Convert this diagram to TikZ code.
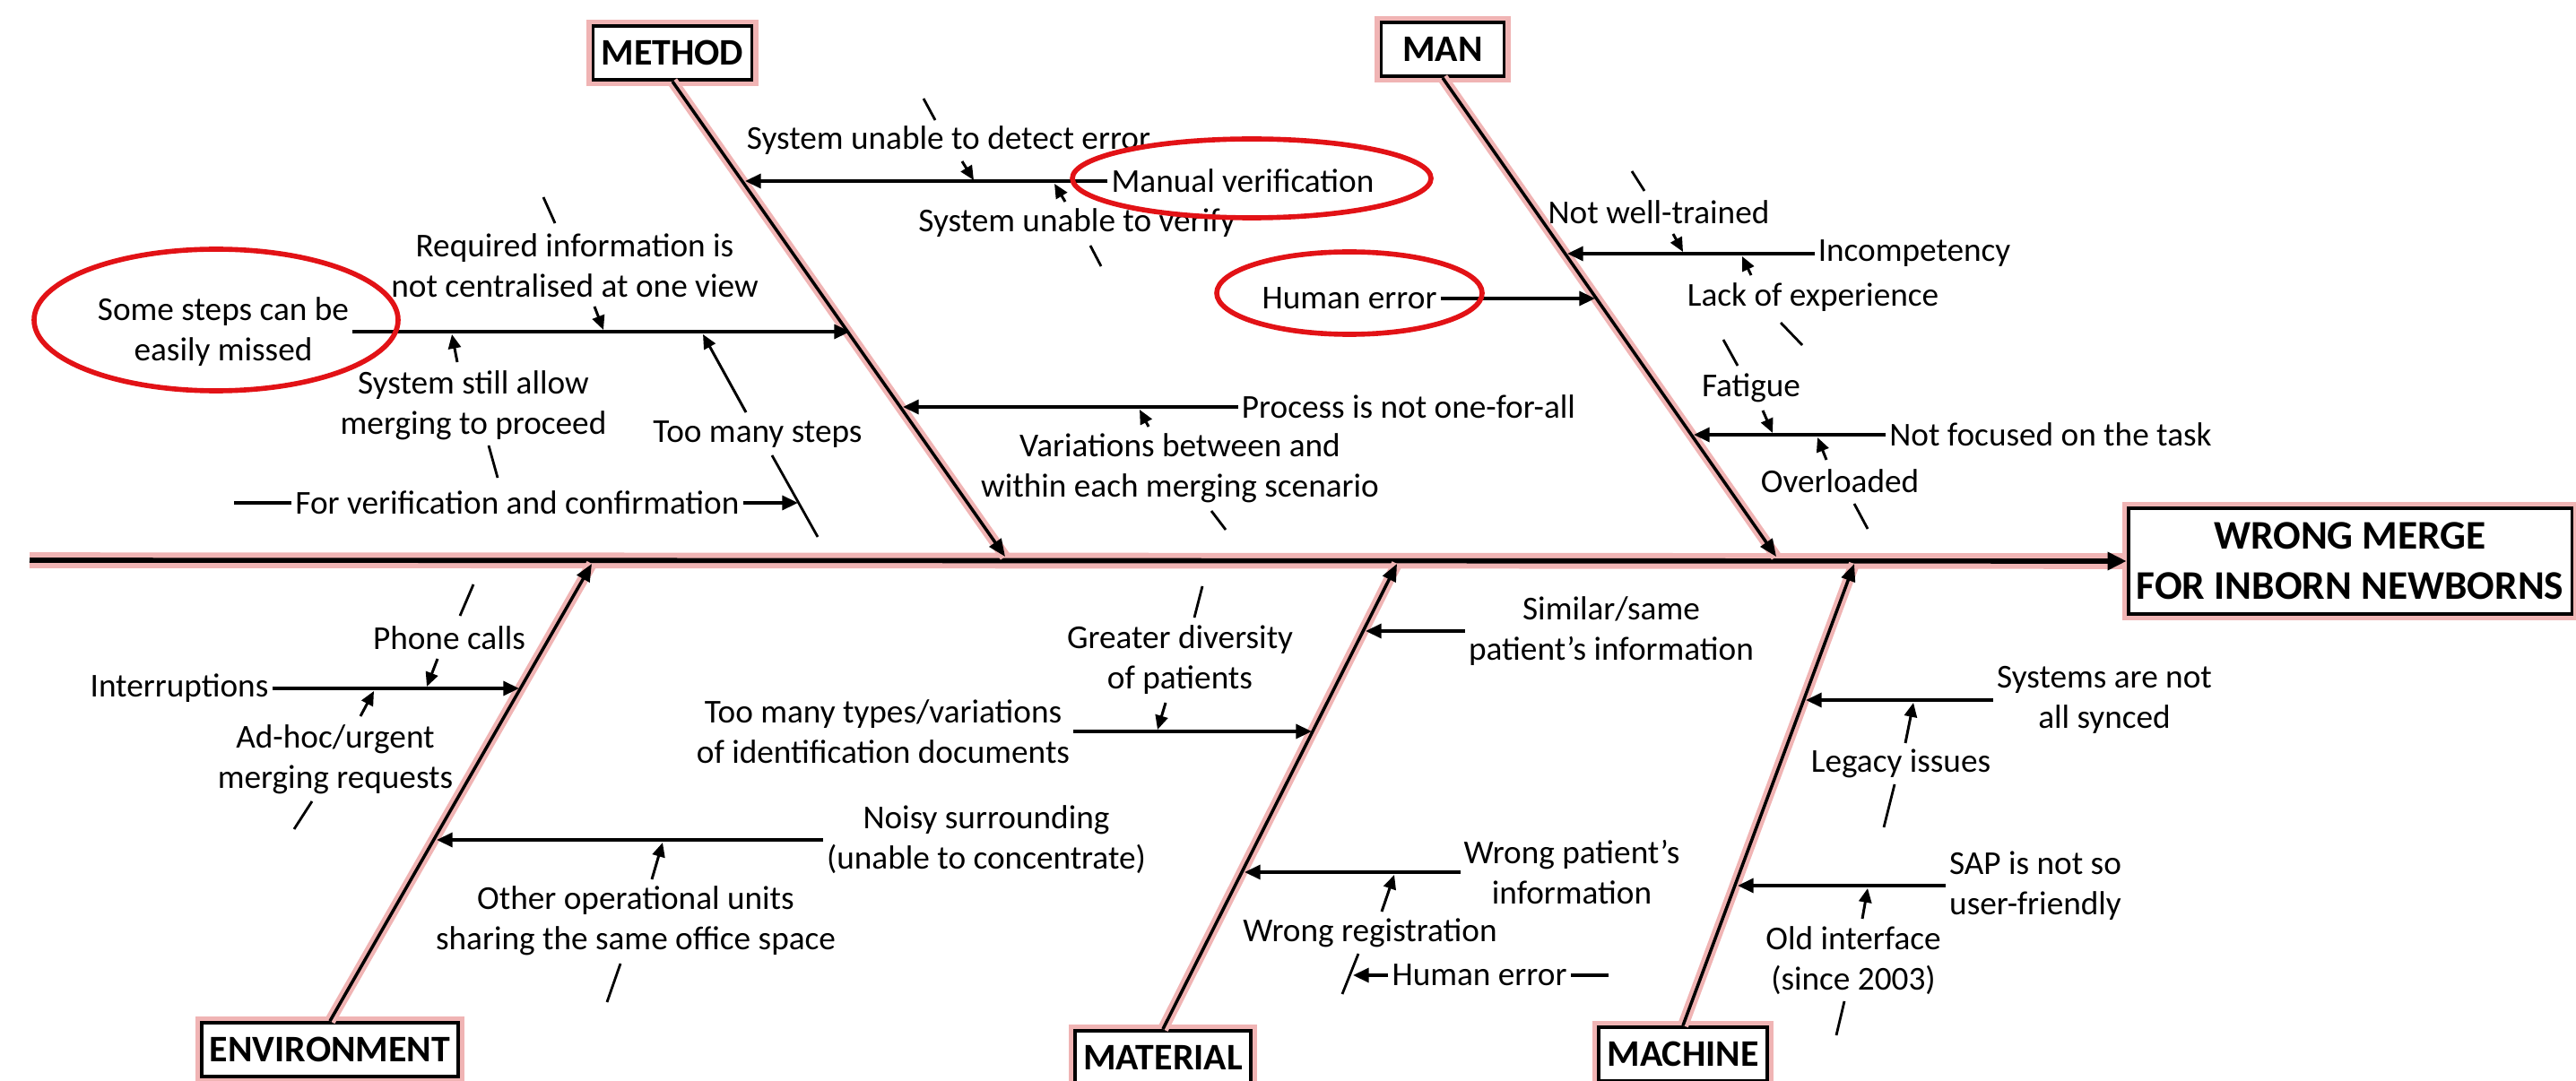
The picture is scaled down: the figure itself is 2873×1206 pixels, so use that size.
\documentclass[tikz,border=0pt]{standalone}
\usepackage{fontspec}
\setmainfont{Carlito}
\usetikzlibrary{arrows.meta,calc,positioning}

\definecolor{ringred}{RGB}{226,18,22}
\definecolor{glow}{RGB}{240,180,180}

\begin{document}
\begin{tikzpicture}[x=0.1mm, y=-0.1mm,
  cause/.style={font=\fontsize{10.6}{12.8}\selectfont, align=center, inner sep=1pt},
  catbox/.style={draw, line width=1.1pt, fill=white, inner xsep=2.6pt, minimum height=6mm,
    font=\fontsize{11.9}{14}\selectfont\bfseries, preaction={draw=glow, line width=4pt}},
  spine/.style={line width=1.6pt, -{Triangle[length=6pt,width=5.5pt]}, preaction={draw=glow, line width=5pt, -}},
  bone/.style={line width=1pt, -{Triangle[length=5.5pt,width=4.5pt]}, preaction={draw=glow, line width=3.5pt, -}},
  sub/.style={line width=1pt, -{Triangle[length=5pt,width=4.5pt]}},
  twig/.style={line width=0.85pt, -{Triangle[length=4.5pt,width=4pt]}},
  stub/.style={line width=0.8pt},
  ring/.style={draw=ringred, line width=1.6pt}]
\useasboundingbox (0,0) rectangle (2873,1206);

% Spine and effect
\coordinate (tail) at (33,625);
\node[catbox, align=center, font=\fontsize{12.9}{16}\selectfont\bfseries,
  minimum width=49.3mm, minimum height=11.8mm] (effect) at (2621,626) {WRONG MERGE\\FOR INBORN NEWBORNS};
\draw[spine] (tail) -- (effect.west);

% Categories
\node[catbox] (method) at (750,59) {METHOD};
\node[catbox, minimum width=13.7mm] (man) at (1609,55) {MAN};
\node[catbox] (environment) at (368,1171) {ENVIRONMENT};
\node[catbox] (material) at (1297,1180) {MATERIAL};
\node[catbox] (machine) at (1877,1176) {MACHINE};

\coordinate (methodEnd) at (1121,621);
\coordinate (manEnd) at (1981,621);
\coordinate (envEnd) at (660,629);
\coordinate (matEnd) at (1558,629);
\coordinate (machEnd) at (2068,629);
\draw[bone] (method.south) -- (methodEnd);
\draw[bone] (man.south) -- (manEnd);
\draw[bone] (environment.north) -- (envEnd);
\draw[bone] (material.north) -- (matEnd);
\draw[bone] (machine.north) -- (machEnd);

% Method
\node[cause] (detect) at (1058,157) {System unable to detect error};
\node[cause] (manual) at (1386,202) {Manual verification};
\node[cause] (verify) at (1201,249) {System unable to verify};
\node[cause] (required) at (641,296) {Required information is\\not centralised at one view};
\node[cause] (steps) at (249,370) {Some steps can be\\easily missed};
\node[cause] (allow) at (528,452) {System still allow\\merging to proceed};
\node[cause] (toomany) at (845,485) {Too many steps};
\node[cause] (verif) at (577,561) {For verification and confirmation};
\node[cause] (process) at (1571,454) {Process is not one-for-all};
\node[cause] (variation) at (1316,522) {Variations between and\\within each merging scenario};

\coordinate (manualEnd) at (831,202);
\coordinate (stepsEnd) at (948,370);
\coordinate (processEnd) at (1007,454);
\coordinate (verifStart) at (261,561);
\coordinate (verifEnd) at (890,561);
\draw[sub] (manual.west) -- (manualEnd);
\draw[sub] (steps.east) -- (stepsEnd);
\draw[sub] (process.west) -- (processEnd);
\draw[line width=1pt] (verifStart) -- (verif.west);
\draw[sub] (verif.east) -- (verifEnd);

% Man
\node[cause] (welltrained) at (1850,237) {Not well-trained};
\node[cause] (incompetency) at (2135,283) {Incompetency};
\node[cause] (lackexp) at (2022,332) {Lack of experience};
\node[cause] (humanA) at (1505,333) {Human error};
\node[cause] (fatigue) at (1953,433) {Fatigue};
\node[cause] (notfocused) at (2287,485) {Not focused on the task};
\node[cause] (overloaded) at (2052,537) {Overloaded};

\coordinate (incompEnd) at (1748,283);
\coordinate (humanAEnd) at (1779,333);
\coordinate (focusEnd) at (1889,485);
\draw[sub] (incompetency.west) -- (incompEnd);
\draw[sub] (humanA.east) -- (humanAEnd);
\draw[sub] (notfocused.west) -- (focusEnd);

% Environment
\node[cause] (phone) at (501,712) {Phone calls};
\node[cause] (interrupt) at (200,768) {Interruptions};
\node[cause] (adhoc) at (374,847) {Ad-hoc/urgent\\merging requests};
\node[cause] (noisy) at (1100,937) {Noisy surrounding\\(unable to concentrate)};
\node[cause] (otherunits) at (709,1027) {Other operational units\\sharing the same office space};

\coordinate (interruptEnd) at (579,768);
\coordinate (noisyEnd) at (487,937);
\draw[sub] (interrupt.east) -- (interruptEnd);
\draw[sub] (noisy.west) -- (noisyEnd);

% Material
\node[cause] (diversity) at (1316,736) {Greater diversity\\of patients};
\node[cause] (idtypes) at (985,816) {Too many types/variations\\of identification documents};
\node[cause] (similar) at (1797,704) {Similar/same\\patient’s information};
\node[cause] (wrongpat) at (1753,973) {Wrong patient’s\\information};
\node[cause] (wrongreg) at (1528,1041) {Wrong registration};
\node[cause] (humanB) at (1650,1088) {Human error};

\coordinate (idtypesEnd) at (1463,816);
\coordinate (similarEnd) at (1523,704);
\coordinate (wrongpatEnd) at (1388,973);
\coordinate (humanBEnd) at (1509,1088);
\coordinate (humanBStart) at (1794,1088);
\draw[sub] (idtypes.east) -- (idtypesEnd);
\draw[sub] (similar.west) -- (similarEnd);
\draw[sub] (wrongpat.west) -- (wrongpatEnd);
\draw[line width=1pt] (humanBStart) -- (humanB.east);
\draw[sub] (humanB.west) -- (humanBEnd);

% Machine
\node[cause] (synced) at (2347,781) {Systems are not\\all synced};
\node[cause] (legacy) at (2120,852) {Legacy issues};
\node[cause] (sap) at (2270,988) {SAP is not so\\user-friendly};
\node[cause] (oldui) at (2067,1072) {Old interface\\(since 2003)};

\coordinate (syncedEnd) at (2014,781);
\coordinate (sapEnd) at (1938,988);
\draw[sub] (synced.west) -- (syncedEnd);
\draw[sub] (sap.west) -- (sapEnd);

% Small arrows onto the cause lines
\foreach \xa/\ya/\xb/\yb in {1073/180/1086/201, 1188/225/1176/205, 663/342/673/368,
    510/404/504/373, 832/460/784/373, 1281/476/1271/457, 1866/261/1877/281,
    1953/307/1943/286, 1966/458/1977/483, 2037/513/2027/488, 488/735/476/766,
    402/799/417/771, 727/981/739/940, 1300/784/1291/814, 1541/1017/1555/976,
    2125/829/2134/784, 2077/1025/2083/991}
  \draw[twig] (\xa,\ya) -- (\xb,\yb);

% Stubs
\foreach \xa/\ya/\xb/\yb in {1030/110/1043/134, 606/220/619/249, 1216/274/1228/297,
    545/497/555/533, 861/508/912/599, 1351/570/1367/591, 1820/191/1834/213,
    1986/360/2010/385, 1922/379/1938/408, 2068/562/2083/590, 528/652/513/687,
    348/894/328/925, 692/1075/677/1118, 1341/654/1332/689, 1515/1064/1497/1109,
    2113/875/2101/923, 2057/1117/2048/1155}
  \draw[stub] (\xa,\ya) -- (\xb,\yb);

% Rings
\draw[ring] (241,357) ellipse [x radius=20.3mm, y radius=7.9mm];
\draw[ring] (1396,199) ellipse [x radius=20mm, y radius=4.4mm];
\draw[ring] (1505,327) ellipse [x radius=14.8mm, y radius=4.6mm];
\end{tikzpicture}
\end{document}
